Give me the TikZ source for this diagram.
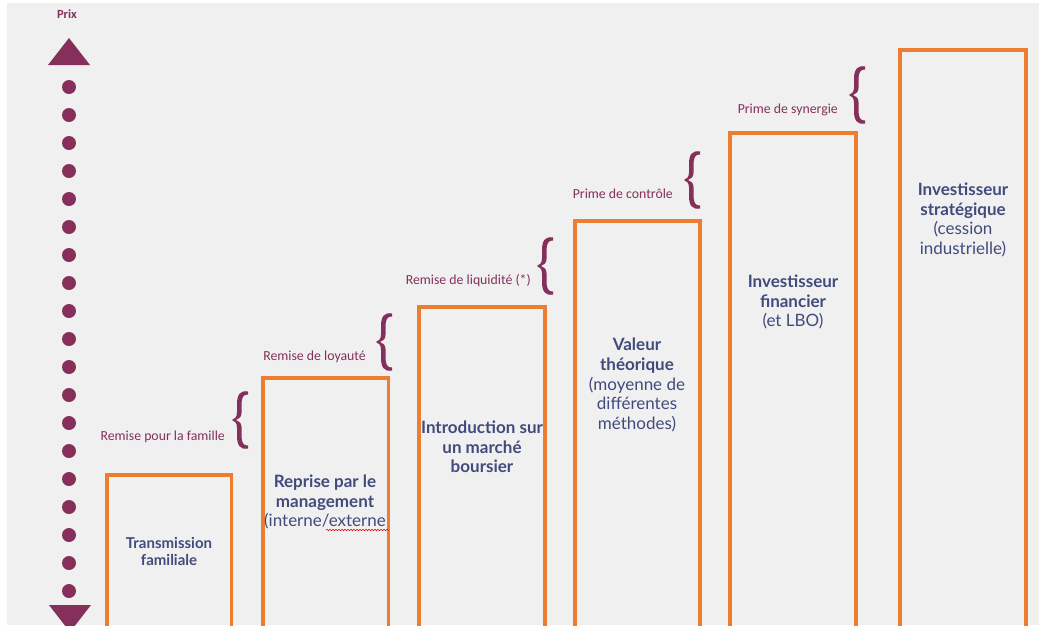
\documentclass[tikz,border=0pt]{standalone}
\usepackage{fontspec}
\usetikzlibrary{decorations.pathmorphing}
\newfontfamily\boxfont{Lato}
\newfontfamily\labfont{Carlito}
\definecolor{bggray}{HTML}{F0F0F0}
\definecolor{maroon}{HTML}{84305A}
\definecolor{orng}{HTML}{ED7D31}
\definecolor{boxtxt}{HTML}{414B7D}
\tikzset{
  stepbox/.style={draw=orng, line width=3.3pt},
  boxtext/.style={align=center, text=boxtxt, inner sep=0pt, font=\boxfont\fontsize{17}{19.6}\selectfont},
  smallboxtext/.style={align=center, text=boxtxt, inner sep=0pt, font=\boxfont\fontsize{15}{17}\selectfont},
  labtext/.style={text=maroon, inner sep=0pt, font=\labfont\fontsize{13.8}{15}\selectfont},
  dotmark/.style={fill=maroon, draw=none},
  bracepic/.pic={
    \fill[maroon]
      (16,-28.5) .. controls (8,-30) and (5,-25) .. (5,-16) -- (5,-8)
      .. controls (5,-3) and (3,-1) .. (0,0)
      .. controls (3,1) and (5,3) .. (5,8) -- (5,16)
      .. controls (5,25) and (8,30) .. (16,28.5)
      -- (16,25.5) .. controls (11,26) and (9.5,22) .. (9.5,15) -- (9.5,7)
      .. controls (9.5,3) and (7,1) .. (4,0)
      .. controls (7,-1) and (9.5,-3) .. (9.5,-7) -- (9.5,-15)
      .. controls (9.5,-22) and (11,-26) .. (16,-25.5) -- cycle;
  }
}
\begin{document}
\begin{tikzpicture}[x=1pt,y=-1pt]
\useasboundingbox (0,0) rectangle (1039,625);
\clip (0,0) rectangle (1039,625);
\fill[white] (0,0) rectangle (1039,625);
\fill[bggray] (7,3) rectangle (1039,625);

% axis
\node[labtext, font=\labfont\bfseries\fontsize{12.5}{14}\selectfont] (prix) at (67,14) {Prix};
\fill[maroon] (48,65) -- (69,38) -- (90,65) -- cycle;
\fill[maroon] (49,605) -- (70,632) -- (91,605) -- cycle;
\foreach \k in {0,...,18}{
  \fill[dotmark] (69,87+28*\k) circle (7);
}

% boxes
\draw[stepbox] (107,640) -- (107,475) -- (231.5,475) -- (231.5,640);
\draw[stepbox] (263,640) -- (263,378) -- (388.5,378) -- (388.5,640);
\draw[stepbox] (419,640) -- (419,307) -- (545,307) -- (545,640);
\draw[stepbox] (575,640) -- (575,221) -- (700,221) -- (700,640);
\draw[stepbox] (730,640) -- (730,133) -- (856,133) -- (856,640);
\draw[stepbox] (900,640) -- (900,50) -- (1026,50) -- (1026,640);

% box texts
\node[smallboxtext] (t1) at (169,551) {\textbf{Transmission}\\\textbf{familiale}};
\node[boxtext] (t2) at (325,502) {\textbf{Reprise par le}\\\textbf{management}\\(interne/externe};
\draw[red!85!black, line width=0.5pt, decorate, decoration={snake, amplitude=0.8pt, segment length=3pt}] (326,530) -- (389,530);
\node[boxtext] (t3) at (482,447) {\textbf{Introduction sur}\\\textbf{un marché}\\\textbf{boursier}};
\node[boxtext] (t4) at (637,385) {\textbf{Valeur}\\\textbf{théorique}\\(moyenne de\\différentes\\méthodes)};
\node[boxtext] (t5) at (793,302) {\textbf{Investisseur}\\\textbf{financier}\\(et LBO)};
\node[boxtext] (t6) at (963,220) {\textbf{Investisseur}\\\textbf{stratégique}\\(cession\\industrielle)};

% braces and labels
\pic at (232,420) {bracepic};
\node[labtext, anchor=east] (l1) at (225,437) {Remise pour la famille};
\pic at (376,342) {bracepic};
\node[labtext, anchor=east] (l2) at (366,357) {Remise de loyauté};
\pic at (537,266) {bracepic};
\node[labtext, anchor=east] (l3) at (531,281) {Remise de liquidité (*)};
\pic at (684,180) {bracepic};
\node[labtext, anchor=east] (l4) at (673,194) {Prime de contrôle};
\pic at (849,95) {bracepic};
\node[labtext, anchor=east] (l5) at (838,110) {Prime de synergie};
\end{tikzpicture}
\end{document}
